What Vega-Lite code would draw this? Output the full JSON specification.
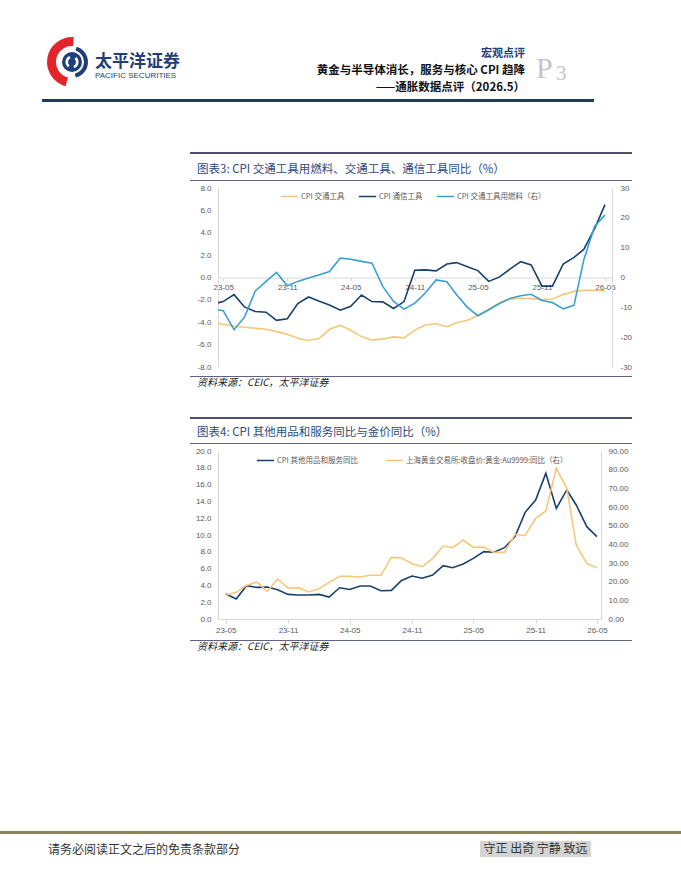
{
  "$schema": "https://vega.github.io/schema/vega-lite/v6.json",
  "padding": 0,
  "background": "white",
  "bounds": "flush",
  "spacing": 0,
  "resolve": {"scale": {"color": "independent"}, "legend": {"color": "independent"}},
  "config": {
    "view": {"stroke": null},
    "title": {"font": "Noto Sans CJK SC", "subtitleFont": "Noto Sans CJK SC", "frame": "group", "fontWeight": "normal"},
    "axis": {"labelFont": "Liberation Sans", "labelFontSize": 8, "labelColor": "#595959", "domainColor": "#d9d9d9", "tickColor": "#d9d9d9", "grid": false, "title": null}
  },
  "datasets": {
    "blank": [],
    "one": [{"k": 1}],
    "motto": [{"t": "守正 出奇 宁静 致远"}],
    "c3": [
      {"date": "2023-04-16", "CPI 交通工具": -4.1, "CPI 通信工具": -2.27, "CPI 交通工具用燃料（右）": -10.8},
      {"date": "2023-05-01", "CPI 交通工具": -4.19, "CPI 通信工具": -2.15, "CPI 交通工具用燃料（右）": -11.1},
      {"date": "2023-06-01", "CPI 交通工具": -4.34, "CPI 通信工具": -1.53, "CPI 交通工具用燃料（右）": -17.5},
      {"date": "2023-07-01", "CPI 交通工具": -4.45, "CPI 通信工具": -2.63, "CPI 交通工具用燃料（右）": -13.3},
      {"date": "2023-08-01", "CPI 交通工具": -4.54, "CPI 通信工具": -3.04, "CPI 交通工具用燃料（右）": -4.5},
      {"date": "2023-09-01", "CPI 交通工具": -4.63, "CPI 通信工具": -3.1, "CPI 交通工具用燃料（右）": -1.3},
      {"date": "2023-10-01", "CPI 交通工具": -4.84, "CPI 通信工具": -3.83, "CPI 交通工具用燃料（右）": 1.7},
      {"date": "2023-11-01", "CPI 交通工具": -5.07, "CPI 通信工具": -3.69, "CPI 交通工具用燃料（右）": -2.8},
      {"date": "2023-12-01", "CPI 交通工具": -5.43, "CPI 通信工具": -2.33, "CPI 交通工具用燃料（右）": -1.3},
      {"date": "2024-01-01", "CPI 交通工具": -5.63, "CPI 通信工具": -1.74, "CPI 交通工具用燃料（右）": -0.2},
      {"date": "2024-02-01", "CPI 交通工具": -5.43, "CPI 通信工具": -2.12, "CPI 交通工具用燃料（右）": 0.9},
      {"date": "2024-03-01", "CPI 交通工具": -4.63, "CPI 通信工具": -2.45, "CPI 交通工具用燃料（右）": 2.0},
      {"date": "2024-04-01", "CPI 交通工具": -4.28, "CPI 通信工具": -2.92, "CPI 交通工具用燃料（右）": 6.5},
      {"date": "2024-05-01", "CPI 交通工具": -4.72, "CPI 通信工具": -2.57, "CPI 交通工具用燃料（右）": 6.1},
      {"date": "2024-06-01", "CPI 交通工具": -5.28, "CPI 通信工具": -1.56, "CPI 交通工具用燃料（右）": 5.4},
      {"date": "2024-07-01", "CPI 交通工具": -5.6, "CPI 通信工具": -2.15, "CPI 交通工具用燃料（右）": 4.8},
      {"date": "2024-08-01", "CPI 交通工具": -5.49, "CPI 通信工具": -2.18, "CPI 交通工具用燃料（右）": -3.0},
      {"date": "2024-09-01", "CPI 交通工具": -5.31, "CPI 通信工具": -2.77, "CPI 交通工具用燃料（右）": -8.0},
      {"date": "2024-10-01", "CPI 交通工具": -5.4, "CPI 通信工具": -2.15, "CPI 交通工具用燃料（右）": -10.6},
      {"date": "2024-11-01", "CPI 交通工具": -4.7, "CPI 通信工具": 0.65, "CPI 交通工具用燃料（右）": -8.6},
      {"date": "2024-12-01", "CPI 交通工具": -4.25, "CPI 通信工具": 0.68, "CPI 交通工具用燃料（右）": -5.2},
      {"date": "2025-01-01", "CPI 交通工具": -4.13, "CPI 通信工具": 0.59, "CPI 交通工具用燃料（右）": -0.8},
      {"date": "2025-02-01", "CPI 交通工具": -4.4, "CPI 通信工具": 1.21, "CPI 交通工具用燃料（右）": -1.4},
      {"date": "2025-03-01", "CPI 交通工具": -4.04, "CPI 通信工具": 1.33, "CPI 交通工具用燃料（右）": -5.8},
      {"date": "2025-04-01", "CPI 交通工具": -3.83, "CPI 通信工具": 0.97, "CPI 交通工具用燃料（右）": -10.0},
      {"date": "2025-05-01", "CPI 交通工具": -3.39, "CPI 通信工具": 0.62, "CPI 交通工具用燃料（右）": -12.8},
      {"date": "2025-06-01", "CPI 交通工具": -2.86, "CPI 通信工具": -0.35, "CPI 交通工具用燃料（右）": -10.8},
      {"date": "2025-07-01", "CPI 交通工具": -2.27, "CPI 通信工具": 0.03, "CPI 交通工具用燃料（右）": -8.8},
      {"date": "2025-08-01", "CPI 交通工具": -1.92, "CPI 通信工具": 0.74, "CPI 交通工具用燃料（右）": -7.0},
      {"date": "2025-09-01", "CPI 交通工具": -1.86, "CPI 通信工具": 1.42, "CPI 交通工具用燃料（右）": -6.1},
      {"date": "2025-10-01", "CPI 交通工具": -1.89, "CPI 通信工具": 1.12, "CPI 交通工具用燃料（右）": -5.6},
      {"date": "2025-11-01", "CPI 交通工具": -1.98, "CPI 通信工具": -0.77, "CPI 交通工具用燃料（右）": -7.7},
      {"date": "2025-12-01", "CPI 交通工具": -1.92, "CPI 通信工具": -0.77, "CPI 交通工具用燃料（右）": -8.4},
      {"date": "2026-01-01", "CPI 交通工具": -1.53, "CPI 通信工具": 1.21, "CPI 交通工具用燃料（右）": -10.5},
      {"date": "2026-02-01", "CPI 交通工具": -1.24, "CPI 通信工具": 1.8, "CPI 交通工具用燃料（右）": -9.3},
      {"date": "2026-03-01", "CPI 交通工具": -1.15, "CPI 通信工具": 2.51, "CPI 交通工具用燃料（右）": 5.9},
      {"date": "2026-04-01", "CPI 交通工具": -1.15, "CPI 通信工具": 4.37, "CPI 交通工具用燃料（右）": 17.1},
      {"date": "2026-05-01", "CPI 交通工具": -1.18, "CPI 通信工具": 6.52, "CPI 交通工具用燃料（右）": 21.0}
    ],
    "c4": [
      {"date": "2023-05-01", "CPI 其他用品和服务同比": 2.97, "上海黄金交易所:收盘价:黄金:Au9999:同比（右）": 12.7},
      {"date": "2023-06-01", "CPI 其他用品和服务同比": 2.38, "上海黄金交易所:收盘价:黄金:Au9999:同比（右）": 14.3},
      {"date": "2023-07-01", "CPI 其他用品和服务同比": 3.96, "上海黄金交易所:收盘价:黄金:Au9999:同比（右）": 18.0},
      {"date": "2023-08-01", "CPI 其他用品和服务同比": 3.76, "上海黄金交易所:收盘价:黄金:Au9999:同比（右）": 19.8},
      {"date": "2023-09-01", "CPI 其他用品和服务同比": 3.8, "上海黄金交易所:收盘价:黄金:Au9999:同比（右）": 14.8},
      {"date": "2023-10-01", "CPI 其他用品和服务同比": 3.49, "上海黄金交易所:收盘价:黄金:Au9999:同比（右）": 21.4},
      {"date": "2023-11-01", "CPI 其他用品和服务同比": 2.93, "上海黄金交易所:收盘价:黄金:Au9999:同比（右）": 16.6},
      {"date": "2023-12-01", "CPI 其他用品和服务同比": 2.85, "上海黄金交易所:收盘价:黄金:Au9999:同比（右）": 16.8},
      {"date": "2024-01-01", "CPI 其他用品和服务同比": 2.85, "上海黄金交易所:收盘价:黄金:Au9999:同比（右）": 14.5},
      {"date": "2024-02-01", "CPI 其他用品和服务同比": 2.93, "上海黄金交易所:收盘价:黄金:Au9999:同比（右）": 16.3},
      {"date": "2024-03-01", "CPI 其他用品和服务同比": 2.61, "上海黄金交易所:收盘价:黄金:Au9999:同比（右）": 19.6},
      {"date": "2024-04-01", "CPI 其他用品和服务同比": 3.72, "上海黄金交易所:收盘价:黄金:Au9999:同比（右）": 22.9},
      {"date": "2024-05-01", "CPI 其他用品和服务同比": 3.52, "上海黄金交易所:收盘价:黄金:Au9999:同比（右）": 22.9},
      {"date": "2024-06-01", "CPI 其他用品和服务同比": 3.92, "上海黄金交易所:收盘价:黄金:Au9999:同比（右）": 22.5},
      {"date": "2024-07-01", "CPI 其他用品和服务同比": 3.92, "上海黄金交易所:收盘价:黄金:Au9999:同比（右）": 23.4},
      {"date": "2024-08-01", "CPI 其他用品和服务同比": 3.37, "上海黄金交易所:收盘价:黄金:Au9999:同比（右）": 23.4},
      {"date": "2024-09-01", "CPI 其他用品和服务同比": 3.41, "上海黄金交易所:收盘价:黄金:Au9999:同比（右）": 33.0},
      {"date": "2024-10-01", "CPI 其他用品和服务同比": 4.59, "上海黄金交易所:收盘价:黄金:Au9999:同比（右）": 32.7},
      {"date": "2024-11-01", "CPI 其他用品和服务同比": 5.11, "上海黄金交易所:收盘价:黄金:Au9999:同比（右）": 29.6},
      {"date": "2024-12-01", "CPI 其他用品和服务同比": 4.85, "上海黄金交易所:收盘价:黄金:Au9999:同比（右）": 28.0},
      {"date": "2025-01-01", "CPI 其他用品和服务同比": 5.24, "上海黄金交易所:收盘价:黄金:Au9999:同比（右）": 32.5},
      {"date": "2025-02-01", "CPI 其他用品和服务同比": 6.35, "上海黄金交易所:收盘价:黄金:Au9999:同比（右）": 39.1},
      {"date": "2025-03-01", "CPI 其他用品和服务同比": 6.11, "上海黄金交易所:收盘价:黄金:Au9999:同比（右）": 38.2},
      {"date": "2025-04-01", "CPI 其他用品和服务同比": 6.55, "上海黄金交易所:收盘价:黄金:Au9999:同比（右）": 42.3},
      {"date": "2025-05-01", "CPI 其他用品和服务同比": 7.22, "上海黄金交易所:收盘价:黄金:Au9999:同比（右）": 38.4},
      {"date": "2025-06-01", "CPI 其他用品和服务同比": 8.02, "上海黄金交易所:收盘价:黄金:Au9999:同比（右）": 38.6},
      {"date": "2025-07-01", "CPI 其他用品和服务同比": 7.94, "上海黄金交易所:收盘价:黄金:Au9999:同比（右）": 35.7},
      {"date": "2025-08-01", "CPI 其他用品和服务同比": 8.49, "上海黄金交易所:收盘价:黄金:Au9999:同比（右）": 35.7},
      {"date": "2025-09-01", "CPI 其他用品和服务同比": 9.8, "上海黄金交易所:收盘价:黄金:Au9999:同比（右）": 45.4},
      {"date": "2025-10-01", "CPI 其他用品和服务同比": 12.7, "上海黄金交易所:收盘价:黄金:Au9999:同比（右）": 44.6},
      {"date": "2025-11-01", "CPI 其他用品和服务同比": 14.17, "上海黄金交易所:收盘价:黄金:Au9999:同比（右）": 53.9},
      {"date": "2025-12-01", "CPI 其他用品和服务同比": 17.34, "上海黄金交易所:收盘价:黄金:Au9999:同比（右）": 57.9},
      {"date": "2026-01-01", "CPI 其他用品和服务同比": 13.17, "上海黄金交易所:收盘价:黄金:Au9999:同比（右）": 80.7},
      {"date": "2026-02-01", "CPI 其他用品和服务同比": 15.36, "上海黄金交易所:收盘价:黄金:Au9999:同比（右）": 70.0},
      {"date": "2026-03-01", "CPI 其他用品和服务同比": 13.57, "上海黄金交易所:收盘价:黄金:Au9999:同比（右）": 39.6},
      {"date": "2026-04-01", "CPI 其他用品和服务同比": 10.99, "上海黄金交易所:收盘价:黄金:Au9999:同比（右）": 29.8},
      {"date": "2026-05-01", "CPI 其他用品和服务同比": 9.8, "上海黄金交易所:收盘价:黄金:Au9999:同比（右）": 27.5}
    ]
  },
  "vconcat": [
    {"width": 681, "height": 37, "data": {"name": "blank"}, "mark": "point"},
    {
      "bounds": "flush", "spacing": 0,
      "hconcat": [
        {"width": 45, "height": 50, "data": {"name": "blank"}, "mark": "point"},
        {
          "width": 54, "height": 50,
          "data": {"name": "one"},
          "layer": [
            {"mark": {"type": "arc", "radius": 25, "radius2": 16, "theta": 3.4, "theta2": 6.35, "color": "#e3242b"}},
            {"mark": {"type": "arc", "radius": 16, "radius2": 12, "theta": 0.3, "theta2": 2.9, "color": "#1f3e7a"}},
            {"mark": {"type": "arc", "radius": 10, "theta": 0, "theta2": 6.2832, "color": "#1f3e7a"}},
            {"mark": {"type": "arc", "radius": 6.5, "radius2": 4, "theta": 3.8, "theta2": 5.9, "color": "#ffffff"}},
            {"mark": {"type": "arc", "radius": 6.5, "radius2": 4, "theta": 0.7, "theta2": 2.8, "color": "#ffffff"}}
          ]
        }
      ]
    },
    {"width": 681, "height": 62, "data": {"name": "blank"}, "mark": "point"},
    {
      "bounds": "flush", "spacing": 0,
      "hconcat": [
        {"width": 42, "height": 3, "data": {"name": "blank"}, "mark": "point"},
        {"width": 50, "height": 3, "data": {"name": "blank"}, "mark": "point", "view": {"fill": "#1e3a5f"}},
        {
          "width": 208, "height": 3, "data": {"name": "blank"}, "mark": "point", "view": {"fill": "#1e3a5f"},
          "title": {"text": "太平洋证券", "subtitle": "PACIFIC SECURITIES", "anchor": "start", "orient": "top", "offset": 18, "dx": 3, "fontSize": 17, "fontWeight": "bold", "color": "#1f3e7a", "subtitleFont": "Liberation Sans", "subtitleFontSize": 8, "subtitleColor": "#1f3e7a", "subtitlePadding": 1}
        },
        {
          "width": 225, "height": 3, "data": {"name": "blank"}, "mark": "point", "view": {"fill": "#1e3a5f"},
          "title": {"text": "宏观点评", "subtitle": ["黄金与半导体消长，服务与核心 CPI 趋降", "——通胀数据点评（2026.5）"], "anchor": "end", "orient": "top", "offset": 6, "fontSize": 11, "fontWeight": "bold", "color": "#1f3e7a", "subtitleFontSize": 11.5, "subtitleFontWeight": "bold", "subtitleColor": "#111111", "subtitleLineHeight": 16.5, "subtitlePadding": 6}
        },
        {
          "width": 28, "height": 3, "data": {"name": "blank"}, "mark": "point", "view": {"fill": "#1e3a5f"},
          "title": {"text": "P", "anchor": "start", "orient": "top", "dx": 11, "offset": 15, "font": "Liberation Serif", "fontSize": 30, "fontWeight": "normal", "color": "#c4c4c4"}
        },
        {
          "width": 41, "height": 3, "data": {"name": "blank"}, "mark": "point", "view": {"fill": "#1e3a5f"},
          "title": {"text": "3", "anchor": "start", "orient": "top", "dx": 3, "offset": 15, "font": "Liberation Serif", "fontSize": 21, "fontWeight": "normal", "color": "#c4c4c4"}
        }
      ]
    },
    {"width": 681, "height": 53, "data": {"name": "blank"}, "mark": "point"},
    {
      "bounds": "flush", "spacing": 0,
      "hconcat": [
        {"width": 190, "height": 2, "data": {"name": "blank"}, "mark": "point"},
        {"width": 442, "height": 2, "data": {"name": "blank"}, "mark": "point", "view": {"fill": "#4b4e6d"}}
      ]
    },
    {"width": 681, "height": 28, "data": {"name": "blank"}, "mark": "point"},
    {
      "bounds": "flush", "spacing": 0,
      "hconcat": [
        {"width": 190, "height": 1, "data": {"name": "blank"}, "mark": "point"},
        {
          "width": 442, "height": 1, "data": {"name": "blank"}, "mark": "point", "view": {"fill": "#5f6282"},
          "title": {"text": "图表3: CPI 交通工具用燃料、交通工具、通信工具同比（%）", "anchor": "start", "orient": "top", "dx": 7, "offset": 5, "fontSize": 11.5, "color": "#2e4a7d"}
        }
      ]
    },
    {"width": 681, "height": 8, "data": {"name": "blank"}, "mark": "point"},
    {
      "bounds": "flush", "spacing": 0,
      "resolve": {"scale": {"color": "independent"}, "legend": {"color": "independent"}},
      "hconcat": [
        {"width": 218, "height": 179, "data": {"name": "blank"}, "mark": "point"},
        {
          "width": 394, "height": 179,
          "data": {"name": "c3"},
          "transform": [{"fold": ["CPI 交通工具", "CPI 通信工具", "CPI 交通工具用燃料（右）"], "as": ["series", "value"]}],
          "encoding": {
            "x": {
              "field": "date", "type": "temporal",
              "scale": {"type": "utc", "domain": [{"year": 2023, "month": 4, "date": 16, "utc": true}, {"year": 2026, "month": 5, "date": 21, "utc": true}]},
              "axis": {
                "orient": "bottom", "offset": -89.5, "format": "%y-%m", "tickSize": 3, "labelPadding": 3, "labelFlush": false, "labelOverlap": false,
                "values": [
                  {"year": 2023, "month": 5, "date": 1, "utc": true},
                  {"year": 2023, "month": 11, "date": 1, "utc": true},
                  {"year": 2024, "month": 5, "date": 1, "utc": true},
                  {"year": 2024, "month": 11, "date": 1, "utc": true},
                  {"year": 2025, "month": 5, "date": 1, "utc": true},
                  {"year": 2025, "month": 11, "date": 1, "utc": true},
                  {"year": 2026, "month": 5, "date": 1, "utc": true}
                ]
              }
            },
            "color": {
              "field": "series", "type": "nominal",
              "scale": {"domain": ["CPI 交通工具", "CPI 通信工具", "CPI 交通工具用燃料（右）"], "range": ["#f6c77a", "#17406d", "#3a9fd0"]},
              "legend": {"orient": "none", "legendX": 62, "legendY": -1, "direction": "horizontal", "columns": 3, "title": null, "symbolType": "stroke", "symbolSize": 300, "symbolStrokeWidth": 1.5, "labelFont": "Noto Sans CJK SC", "labelFontSize": 7.5, "labelColor": "#595959", "columnPadding": 10, "labelOffset": 2, "labelLimit": 300}
            }
          },
          "layer": [
            {
              "transform": [{"filter": {"field": "series", "oneOf": ["CPI 交通工具", "CPI 通信工具"]}}],
              "mark": {"type": "line", "strokeWidth": 1.6},
              "encoding": {
                "y": {
                  "field": "value", "type": "quantitative",
                  "scale": {"domain": [-8, 8], "nice": false},
                  "axis": {"values": [-8, -6, -4, -2, 0, 2, 4, 6, 8], "labelExpr": "replace(format(datum.value, '.1f'), '−', '-')", "ticks": false, "labelPadding": 7}
                }
              }
            },
            {
              "transform": [{"filter": {"field": "series", "equal": "CPI 交通工具用燃料（右）"}}],
              "mark": {"type": "line", "strokeWidth": 1.6},
              "encoding": {
                "y": {
                  "field": "value", "type": "quantitative",
                  "scale": {"domain": [-30, 30], "nice": false},
                  "axis": {"orient": "right", "values": [-30, -20, -10, 0, 10, 20, 30], "labelExpr": "replace(format(datum.value, 'd'), '−', '-')", "ticks": false, "labelPadding": 8}
                }
              }
            }
          ],
          "resolve": {"scale": {"y": "independent"}}
        }
      ]
    },
    {"width": 681, "height": 188, "data": {"name": "blank"}, "mark": "point"},
    {
      "bounds": "flush", "spacing": 0,
      "hconcat": [
        {"width": 190, "height": 1, "data": {"name": "blank"}, "mark": "point"},
        {
          "width": 442, "height": 1, "data": {"name": "blank"}, "mark": "point", "view": {"fill": "#5f6282"},
          "title": {"text": "资料来源：CEIC，太平洋证券", "anchor": "start", "orient": "bottom", "dx": 7, "offset": 1, "fontSize": 10, "fontStyle": "italic", "color": "#222222"}
        }
      ]
    },
    {"width": 681, "height": 41, "data": {"name": "blank"}, "mark": "point"},
    {
      "bounds": "flush", "spacing": 0,
      "hconcat": [
        {"width": 190, "height": 2, "data": {"name": "blank"}, "mark": "point"},
        {"width": 442, "height": 2, "data": {"name": "blank"}, "mark": "point", "view": {"fill": "#4b4e6d"}}
      ]
    },
    {"width": 681, "height": 26, "data": {"name": "blank"}, "mark": "point"},
    {
      "bounds": "flush", "spacing": 0,
      "hconcat": [
        {"width": 190, "height": 1, "data": {"name": "blank"}, "mark": "point"},
        {
          "width": 442, "height": 1, "data": {"name": "blank"}, "mark": "point", "view": {"fill": "#5f6282"},
          "title": {"text": "图表4: CPI 其他用品和服务同比与金价同比（%）", "anchor": "start", "orient": "top", "dx": 7, "offset": 5, "fontSize": 11.5, "color": "#2e4a7d"}
        }
      ]
    },
    {"width": 681, "height": 8, "data": {"name": "blank"}, "mark": "point"},
    {
      "bounds": "flush", "spacing": 0,
      "resolve": {"scale": {"color": "independent"}, "legend": {"color": "independent"}},
      "hconcat": [
        {"width": 218, "height": 168, "data": {"name": "blank"}, "mark": "point"},
        {
          "width": 383, "height": 168,
          "data": {"name": "c4"},
          "transform": [{"fold": ["CPI 其他用品和服务同比", "上海黄金交易所:收盘价:黄金:Au9999:同比（右）"], "as": ["series", "value"]}],
          "encoding": {
            "x": {
              "field": "date", "type": "temporal",
              "scale": {"type": "utc", "domain": [{"year": 2023, "month": 4, "date": 8, "utc": true}, {"year": 2026, "month": 5, "date": 13, "utc": true}]},
              "axis": {
                "orient": "bottom", "format": "%y-%m", "tickSize": 4, "labelPadding": 3, "labelFlush": false, "labelOverlap": false,
                "values": [
                  {"year": 2023, "month": 5, "date": 1, "utc": true},
                  {"year": 2023, "month": 11, "date": 1, "utc": true},
                  {"year": 2024, "month": 5, "date": 1, "utc": true},
                  {"year": 2024, "month": 11, "date": 1, "utc": true},
                  {"year": 2025, "month": 5, "date": 1, "utc": true},
                  {"year": 2025, "month": 11, "date": 1, "utc": true},
                  {"year": 2026, "month": 5, "date": 1, "utc": true}
                ]
              }
            },
            "color": {
              "field": "series", "type": "nominal",
              "scale": {"domain": ["CPI 其他用品和服务同比", "上海黄金交易所:收盘价:黄金:Au9999:同比（右）"], "range": ["#17406d", "#f6c77a"]},
              "legend": {"orient": "none", "legendX": 38, "legendY": 0, "direction": "horizontal", "columns": 2, "title": null, "symbolType": "stroke", "symbolSize": 300, "symbolStrokeWidth": 1.5, "labelFont": "Noto Sans CJK SC", "labelFontSize": 7.5, "labelColor": "#595959", "columnPadding": 24, "labelOffset": 2, "labelLimit": 300}
            }
          },
          "layer": [
            {
              "transform": [{"filter": {"field": "series", "equal": "CPI 其他用品和服务同比"}}],
              "mark": {"type": "line", "strokeWidth": 1.6},
              "encoding": {
                "y": {
                  "field": "value", "type": "quantitative",
                  "scale": {"domain": [0, 20], "nice": false},
                  "axis": {"values": [0, 2, 4, 6, 8, 10, 12, 14, 16, 18, 20], "format": ".1f", "ticks": false, "labelPadding": 7}
                }
              }
            },
            {
              "transform": [{"filter": {"field": "series", "equal": "上海黄金交易所:收盘价:黄金:Au9999:同比（右）"}}],
              "mark": {"type": "line", "strokeWidth": 1.6},
              "encoding": {
                "y": {
                  "field": "value", "type": "quantitative",
                  "scale": {"domain": [0, 90], "nice": false},
                  "axis": {"orient": "right", "values": [0, 10, 20, 30, 40, 50, 60, 70, 80, 90], "format": ".2f", "ticks": false, "labelPadding": 7}
                }
              }
            }
          ],
          "resolve": {"scale": {"y": "independent"}}
        }
      ]
    },
    {"width": 681, "height": 189, "data": {"name": "blank"}, "mark": "point"},
    {
      "bounds": "flush", "spacing": 0,
      "hconcat": [
        {"width": 190, "height": 1, "data": {"name": "blank"}, "mark": "point"},
        {
          "width": 442, "height": 1, "data": {"name": "blank"}, "mark": "point", "view": {"fill": "#5f6282"},
          "title": {"text": "资料来源：CEIC，太平洋证券", "anchor": "start", "orient": "bottom", "dx": 7, "offset": 1, "fontSize": 10, "fontStyle": "italic", "color": "#222222"}
        }
      ]
    },
    {"width": 681, "height": 191, "data": {"name": "blank"}, "mark": "point"},
    {
      "width": 681, "height": 3, "data": {"name": "blank"}, "mark": "point", "view": {"fill": "#8a845a"},
      "title": {"text": "请务必阅读正文之后的免责条款部分", "anchor": "start", "orient": "bottom", "dx": 48, "offset": 11, "fontSize": 12, "color": "#333333"}
    },
    {"width": 681, "height": 7, "data": {"name": "blank"}, "mark": "point"},
    {
      "bounds": "flush", "spacing": 0,
      "hconcat": [
        {"width": 480, "height": 16, "data": {"name": "blank"}, "mark": "point"},
        {
          "width": 111, "height": 16, "data": {"name": "motto"}, "view": {"fill": "#d3d3d3"},
          "mark": {"type": "text", "font": "Noto Sans CJK SC", "fontSize": 12, "color": "#333333"},
          "encoding": {"text": {"field": "t"}}
        }
      ]
    }
  ]
}
